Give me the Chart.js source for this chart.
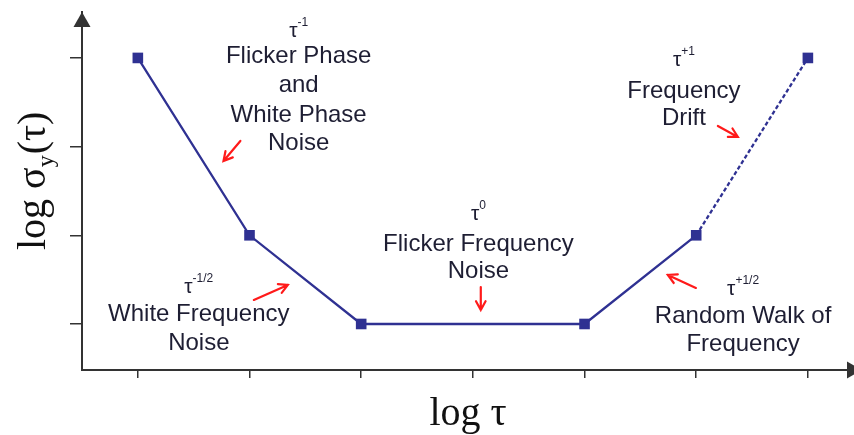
<!DOCTYPE html>
<html lang="en">
<head>
    <meta charset="UTF-8">
    <title>Allan deviation slopes</title>
    <script src="https://cdnjs.cloudflare.com/ajax/libs/Chart.js/4.4.1/chart.umd.min.js"></script>
    <style>
        * { margin: 0; padding: 0; box-sizing: border-box; }
        body { background: #fff; }
        .chart-container { width: 854px; height: 435px; position: relative; }
    </style>
</head>
<body>
    <div class="chart-container">
        <canvas id="sigmaChart" width="854" height="435"></canvas>
    </div>

    <script>
        // log tau positions and log sigma values of the corner points
        const logTau = [0, 1, 2, 4, 5, 6];
        const logSigma = [3, 1, 0, 0, 1, 3];
        const xTickValues = [0, 1, 2, 3, 4, 5, 6];
        const yTickValues = [0, 1, 2, 3];

        // noise type labels: exponent and text lines
        const labelPowers = ['-1', '-1/2', '0', '+1', '+1/2'];
        const labelLines = [
            ['Flicker Phase', 'and', 'White Phase', 'Noise'],
            ['White Frequency', 'Noise'],
            ['Flicker Frequency', 'Noise'],
            ['Frequency', 'Drift'],
            ['Random Walk of', 'Frequency']
        ];

        const lineColor = '#2f3192';
        const axisColor = '#333333';

        // where the labels and red arrows sit (in axis units) - layout only
        const labelLayout = [
            { x: 1.44, y: 3.237, offsets: [26, 55, 85, 113] },
            { x: 0.546, y: 0.35, offsets: [28, 57] },
            { x: 3.05, y: 1.173, offsets: [31, 58] },
            { x: 4.89, y: 2.91, offsets: [32, 59] },
            { x: 5.42, y: 0.327, offsets: [28, 56] }
        ];
        const arrowLayout = [
            { from: [0.918, 2.064], to: [0.767, 1.838] },
            { from: [1.039, 0.271], to: [1.343, 0.440] },
            { from: [3.071, 0.417], to: [3.071, 0.158] },
            { from: [5.194, 2.233], to: [5.373, 2.109] },
            { from: [4.997, 0.406], to: [4.746, 0.553] }
        ];

        const annotations = {
            id: 'annotations',
            afterDraw(chart) {
                const ctx = chart.ctx;
                const xs = chart.scales.x, ys = chart.scales.y;
                const area = chart.chartArea;
                ctx.save();

                // axis arrow heads
                ctx.fillStyle = axisColor;
                ctx.beginPath();
                ctx.moveTo(area.left, area.top);
                ctx.lineTo(area.left - 8.5, area.top + 15);
                ctx.lineTo(area.left + 8.5, area.top + 15);
                ctx.closePath();
                ctx.fill();
                ctx.beginPath();
                ctx.moveTo(area.right + 8, area.bottom);
                ctx.lineTo(area.right - 7, area.bottom - 8.5);
                ctx.lineTo(area.right - 7, area.bottom + 8.5);
                ctx.closePath();
                ctx.fill();

                // axis titles
                ctx.fillStyle = '#111';
                ctx.textBaseline = 'alphabetic';
                ctx.textAlign = 'center';
                ctx.font = '40px "Liberation Serif", "Times New Roman", serif';
                ctx.fillText('log \u03c4', (area.left + area.right) / 2, area.bottom + 55);

                ctx.save();
                ctx.translate(45, 250);
                ctx.rotate(-Math.PI / 2);
                ctx.textAlign = 'left';
                let px = 0;
                ctx.font = '40px "Liberation Serif", "Times New Roman", serif';
                ctx.fillText('log \u03c3', px, 0);
                px += ctx.measureText('log \u03c3').width;
                ctx.font = '24px "Liberation Serif", "Times New Roman", serif';
                ctx.fillText('y', px, 8);
                px += ctx.measureText('y').width + 1;
                ctx.font = '40px "Liberation Serif", "Times New Roman", serif';
                ctx.fillText('(\u03c4)', px, 0);
                ctx.restore();

                // noise labels
                ctx.fillStyle = '#1e1e33';
                labelLayout.forEach((lay, i) => {
                    const cx = xs.getPixelForValue(lay.x);
                    const by = ys.getPixelForValue(lay.y);
                    ctx.font = '21px "Liberation Sans", Arial, sans-serif';
                    const tw = ctx.measureText('\u03c4').width;
                    ctx.font = '12px "Liberation Sans", Arial, sans-serif';
                    const sw = ctx.measureText(labelPowers[i]).width;
                    const start = cx - (tw + sw) / 2;
                    ctx.textAlign = 'left';
                    ctx.font = '21px "Liberation Sans", Arial, sans-serif';
                    ctx.fillText('\u03c4', start, by);
                    ctx.font = '12px "Liberation Sans", Arial, sans-serif';
                    ctx.fillText(labelPowers[i], start + tw, by - 11);
                    ctx.textAlign = 'center';
                    ctx.font = '24px "Liberation Sans", Arial, sans-serif';
                    labelLines[i].forEach((line, j) => {
                        ctx.fillText(line, cx, by + lay.offsets[j]);
                    });
                });

                // red arrows
                ctx.strokeStyle = '#ff1a1a';
                ctx.lineWidth = 2.2;
                ctx.lineCap = 'round';
                arrowLayout.forEach(a => {
                    const x1 = xs.getPixelForValue(a.from[0]), y1 = ys.getPixelForValue(a.from[1]);
                    const x2 = xs.getPixelForValue(a.to[0]), y2 = ys.getPixelForValue(a.to[1]);
                    const ang = Math.atan2(y2 - y1, x2 - x1);
                    const head = 10;
                    ctx.beginPath();
                    ctx.moveTo(x1, y1);
                    ctx.lineTo(x2, y2);
                    ctx.moveTo(x2 - head * Math.cos(ang - 0.5), y2 - head * Math.sin(ang - 0.5));
                    ctx.lineTo(x2, y2);
                    ctx.lineTo(x2 - head * Math.cos(ang + 0.5), y2 - head * Math.sin(ang + 0.5));
                    ctx.stroke();
                });
                ctx.restore();
            }
        };

        new Chart(document.getElementById('sigmaChart'), {
            type: 'line',
            data: {
                datasets: [{
                    data: logTau.map((t, i) => ({ x: t, y: logSigma[i] })),
                    borderColor: lineColor,
                    backgroundColor: lineColor,
                    borderWidth: 2.3,
                    pointStyle: 'rect',
                    pointRadius: 7.5,
                    pointBorderWidth: 0,
                    tension: 0,
                    clip: false,
                    segment: {
                        borderDash: ctx => ctx.p0DataIndex === 4 ? [4, 2.5] : undefined
                    }
                }]
            },
            options: {
                responsive: false,
                animation: false,
                devicePixelRatio: 1,
                layout: { autoPadding: false, padding: { top: 12, right: 0, left: 0, bottom: 0 } },
                scales: {
                    x: {
                        type: 'linear',
                        min: -0.5,
                        max: 6.413,
                        afterBuildTicks: scale => { scale.ticks = xTickValues.map(v => ({ value: v })); },
                        afterFit: scale => { scale.height = 65; },
                        ticks: { display: false },
                        grid: { drawOnChartArea: false, drawTicks: true, tickLength: 8, color: axisColor, lineWidth: 1.5 },
                        border: { display: true, color: axisColor, width: 2 }
                    },
                    y: {
                        type: 'linear',
                        min: -0.519,
                        max: 3.518,
                        afterBuildTicks: scale => { scale.ticks = yTickValues.map(v => ({ value: v })); },
                        afterFit: scale => { scale.width = 82; },
                        ticks: { display: false },
                        grid: { drawOnChartArea: false, drawTicks: true, tickLength: 12, color: axisColor, lineWidth: 1.5 },
                        border: { display: true, color: axisColor, width: 2 }
                    }
                },
                plugins: {
                    legend: { display: false },
                    tooltip: { enabled: false }
                }
            },
            plugins: [annotations]
        });
    </script>
</body>
</html>
